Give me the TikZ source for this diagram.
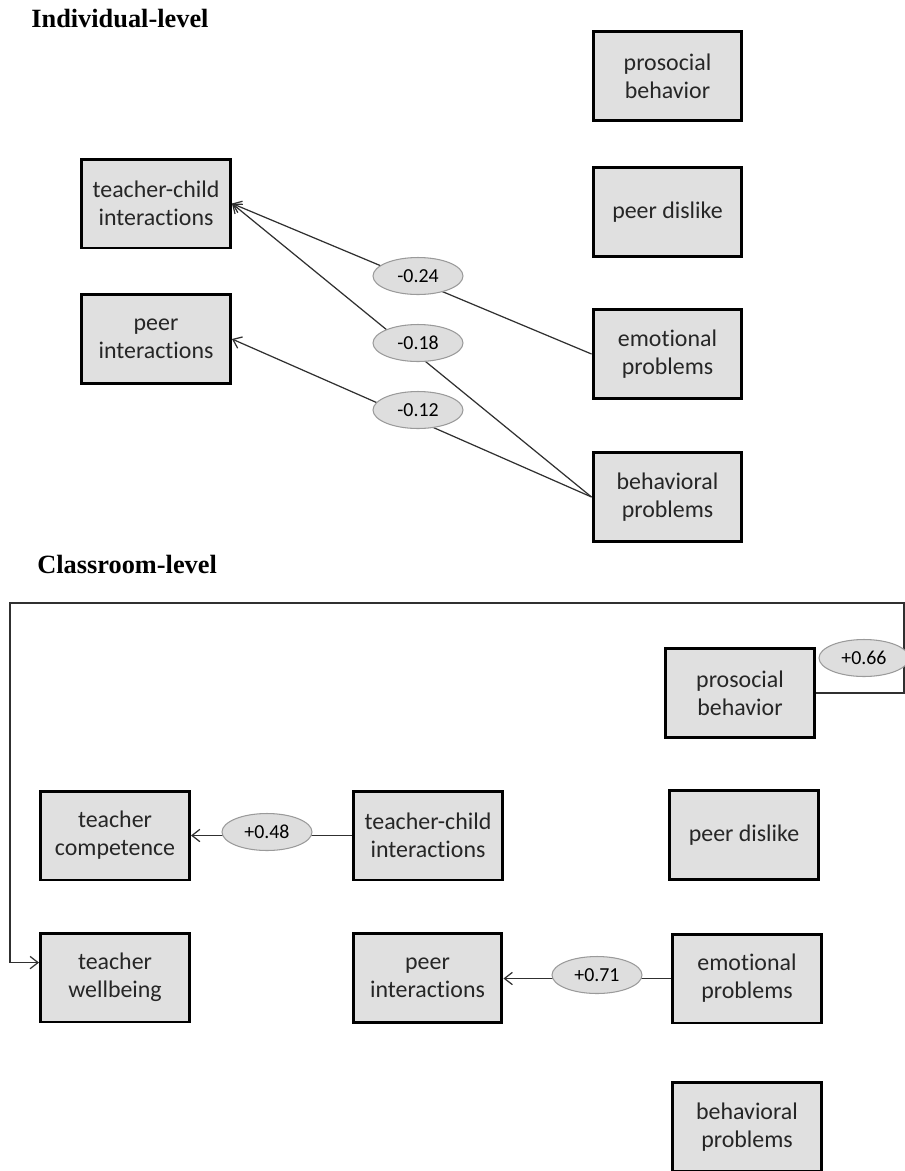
\documentclass[tikz,border=0pt]{standalone}
\usepackage{fontspec}
\setmainfont{Liberation Serif}
\newfontfamily\boxfont[Ligatures={NoCommon}]{Carlito}
\usetikzlibrary{shapes.geometric,arrows.meta}
\definecolor{boxgray}{HTML}{E0E0E0}
\definecolor{ellgray}{HTML}{DEDEDE}
\definecolor{ellline}{HTML}{9A9A9A}
\definecolor{linegray}{HTML}{303030}
\tikzset{
  varbox/.style={draw=black, line width=1.7pt, fill=boxgray, minimum width=2.98cm, minimum height=1.78cm,
    inner sep=0pt, align=center, font=\boxfont\fontsize{13.6}{16}\selectfont, text=black!85},
  coef/.style={ellipse, draw=ellline, line width=0.6pt, fill=ellgray, minimum width=1.8cm, minimum height=0.74cm,
    inner sep=0pt, font=\boxfont\fontsize{11.3}{13}\selectfont, text=black},
  path/.style={draw=linegray, line width=0.7pt},
  arr/.style={path, -{Straight Barb[length=4.5pt,width=7pt]}},
  title/.style={anchor=base west, inner sep=0pt, font=\bfseries\fontsize{15}{18}\selectfont}
}
\begin{document}
\begin{tikzpicture}[x=0.02cm, y=-0.02cm]
\useasboundingbox (0,0) rectangle (905,1171);
% titles
\node[title] (t1) at (31,27) {Individual-level};
\node[title] (t2) at (37,573) {Classroom-level};
% individual level
\node[varbox] (tci) at (156,203.5) {teacher-child\\interactions};
\node[varbox] (pi) at (156,339) {peer\\interactions};
\node[varbox] (pb) at (667.5,76) {prosocial\\behavior};
\node[varbox] (pd) at (667.5,212) {peer dislike};
\node[varbox] (ep) at (667.5,354) {emotional\\problems};
\node[varbox] (bp) at (667.5,497) {behavioral\\problems};
\draw[arr] (ep.west) -- (tci.east);
\draw[arr] (bp.west) -- (tci.east);
\draw[arr] (bp.west) -- (pi.east);
\node[coef] (e24) at (418,276) {-0.24};
\node[coef] (e18) at (418,343) {-0.18};
\node[coef] (e12) at (418,410) {-0.12};
% classroom level
\node[varbox] (tc) at (115,835.5) {teacher\\competence};
\node[varbox] (tw) at (115,977.5) {teacher\\wellbeing};
\node[varbox] (tci2) at (428,835.5) {teacher-child\\interactions};
\node[varbox] (pi2) at (427.5,978) {peer\\interactions};
\node[varbox] (pb2) at (740,693) {prosocial\\behavior};
\node[varbox] (pd2) at (744,835) {peer dislike};
\node[varbox] (ep2) at (747,978.5) {emotional\\problems};
\node[varbox] (bp2) at (747,1127) {behavioral\\problems};
\coordinate (r1) at (904,693);
\coordinate (r2) at (904,603);
\coordinate (l1) at (10,603);
\draw[arr] (tci2.west) -- (tc.east |- tci2.west);
\draw[arr] (ep2.west) -- (pi2.east |- ep2.west);
\draw[arr] (pb2.east) -- (r1) -- (r2) -- (l1) |- ([yshift=8.5pt]tw.west);
\node[coef] (e48) at (267,832) {+0.48};
\node[coef] (e71) at (597,975) {+0.71};
\node[coef] (e66) at (864,658) {+0.66};
\end{tikzpicture}
\end{document}
